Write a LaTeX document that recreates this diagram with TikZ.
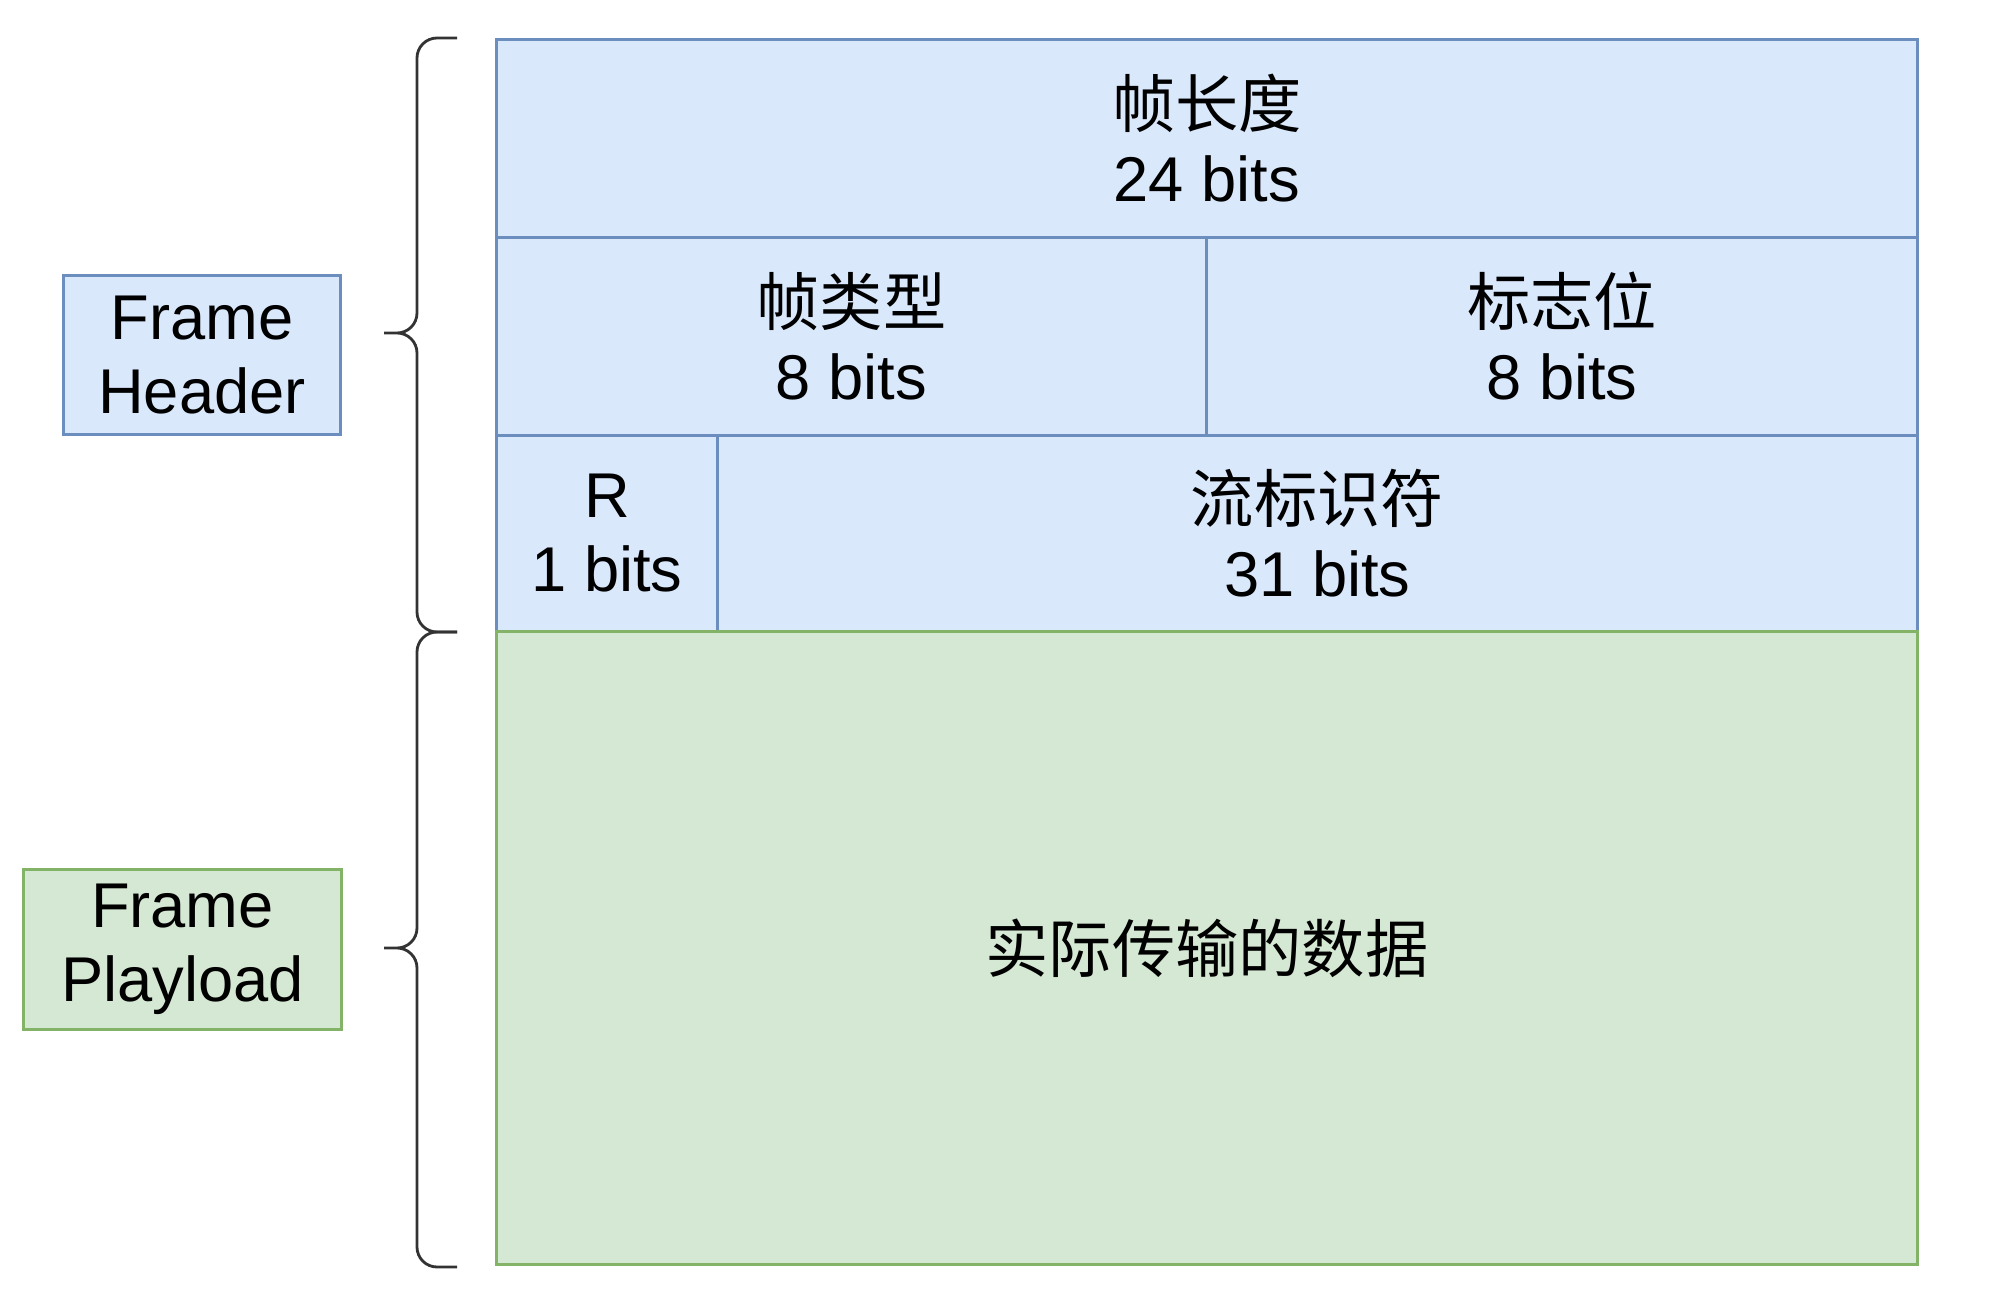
\documentclass[tikz,border=0pt]{standalone}
\usepackage{fontspec}
\setmainfont{Liberation Sans}
\newfontfamily\cjk{Noto Sans CJK SC}
\definecolor{hdrfill}{HTML}{DAE8FC}
\definecolor{hdrline}{HTML}{6C8EBF}
\definecolor{payfill}{HTML}{D5E8D4}
\definecolor{payline}{HTML}{82B366}
\definecolor{braceline}{HTML}{333333}

\tikzset{
  hdrcell/.style={draw=hdrline, fill=hdrfill, line width=0.8pt, anchor=north west,
    inner sep=0pt, align=center, font=\fontsize{18}{21}\selectfont},
  paycell/.style={draw=payline, fill=payfill, line width=0.8pt, anchor=north west,
    inner sep=0pt, align=center, font=\fontsize{18}{21}\selectfont},
  bracket/.style={rounded corners=0.2cm, line width=0.8pt, braceline}
}

\begin{document}
\begin{tikzpicture}
  \useasboundingbox (0,0) rectangle (20,-12.96);
  % Header fields
  \node[hdrcell, minimum width=14.21cm, minimum height=1.98cm] (len) at (4.95,-0.38)
    {{\cjk 帧长度}\\24 bits};
  \node[hdrcell, minimum width=7.10cm, minimum height=1.98cm] (type) at (4.95,-2.36)
    {{\cjk 帧类型}\\8 bits};
  \node[hdrcell, minimum width=7.11cm, minimum height=1.98cm] (flags) at (12.05,-2.36)
    {{\cjk 标志位}\\8 bits};
  \node[hdrcell, minimum width=2.21cm, minimum height=1.96cm] (rbit) at (4.95,-4.34)
    {R\\1 bits};
  \node[hdrcell, minimum width=12.00cm, minimum height=1.96cm] (sid) at (7.16,-4.34)
    {{\cjk 流标识符}\\31 bits};
  % Payload
  \node[paycell, minimum width=14.21cm, minimum height=6.33cm] (payload) at (4.95,-6.30)
    {{\cjk 实际传输的数据}};
  % Side labels
  \node[hdrcell, minimum width=2.77cm, minimum height=1.59cm] (hdrlbl) at (0.62,-2.74)
    {Frame\\Header};
  \node[paycell, minimum width=3.18cm, minimum height=1.60cm] (paylbl) at (0.22,-8.68)
    {Frame\\Playload};
  % Braces
  \draw[bracket] (4.57,-0.38) -| (4.17,-3.33) -- (3.84,-3.33)
    (3.84,-3.33) -- (4.17,-3.33) |- (4.57,-6.32);
  \draw[bracket] (4.57,-6.32) -| (4.17,-9.48) -- (3.84,-9.48)
    (3.84,-9.48) -- (4.17,-9.48) |- (4.57,-12.67);
\end{tikzpicture}
\end{document}
